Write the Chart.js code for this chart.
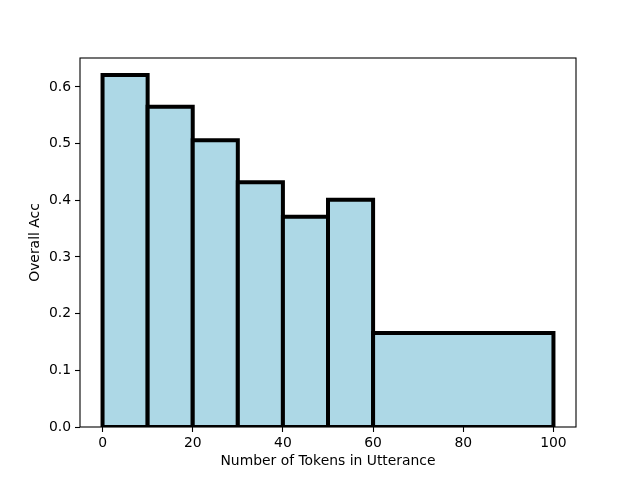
<!DOCTYPE html>
<html>
<head>
<meta charset="utf-8">
<script src="https://cdn.jsdelivr.net/npm/chart.js@4.4.0/dist/chart.umd.min.js"></script>
<style>
    html, body { margin: 0; padding: 0; background: #fff; }
    #wrap { width: 640px; height: 480px; }
</style>
</head>
<body>
<div id="wrap"><canvas id="accChart" width="640" height="480"></canvas></div>
<script>
// bin edges along x and the accuracy of each bin
const binEdges = [0, 10, 20, 30, 40, 50, 60, 100];
const overallAcc = [0.621, 0.565, 0.506, 0.432, 0.371, 0.401, 0.166];
const xTicks = [0, 20, 40, 60, 80, 100];
const yTicks = [0.0, 0.1, 0.2, 0.3, 0.4, 0.5, 0.6];

const fontSpec = { family: 'DejaVu Sans', size: 13.9 };

// each bar: left edge up, top, right edge down, filled to zero
const datasets = [];
for (let i = 0; i < overallAcc.length; i++) {
    const x0 = binEdges[i], x1 = binEdges[i + 1], h = overallAcc[i];
    datasets.push({
        data: [{x: x0, y: 0}, {x: x0, y: h}, {x: x1, y: h}, {x: x1, y: 0}],
        fill: 'origin',
        backgroundColor: '#add8e6',
        borderColor: '#000',
        borderWidth: 4,
        borderJoinStyle: 'miter',
        pointRadius: 0,
        tension: 0,
        order: overallAcc.length - i + 1
    });
}
// bottom edges of the bars (half hidden under the axis, as in the original)
datasets.push({
    data: [{x: binEdges[0], y: 0}, {x: binEdges[binEdges.length - 1], y: 0}],
    fill: false,
    borderColor: '#000',
    borderWidth: 4,
    pointRadius: 0,
    order: 0
});

const framePlugin = {
    id: 'frame',
    afterDatasetsDraw(chart) {
        const a = chart.chartArea;
        const ctx = chart.ctx;
        ctx.save();
        ctx.strokeStyle = '#000';
        ctx.lineWidth = 1.1;
        ctx.strokeRect(a.left, a.top, a.right - a.left, a.bottom - a.top);
        ctx.restore();
    }
};

const canv = document.getElementById('accChart').getContext('2d');
const chart = new Chart(canv, {
    type: 'line',
    data: { datasets: datasets },
    options: {
        responsive: false,
        animation: false,
        layout: { padding: { left: 0, top: 58, right: 64, bottom: 0 } },
        plugins: {
            legend: { display: false },
            tooltip: { enabled: false }
        },
        scales: {
            x: {
                type: 'linear',
                min: -5,
                max: 105,
                afterFit: (s) => { s.height = 53; },
                afterBuildTicks: (s) => { s.ticks = xTicks.map(v => ({value: v})); },
                border: { display: false },
                grid: { drawOnChartArea: false, drawTicks: true, tickLength: 5, color: '#000', tickWidth: 1.1 },
                ticks: { color: '#000', font: fontSpec, padding: 3, maxRotation: 0 },
                title: { display: true, text: 'Number of Tokens in Utterance', color: '#000', font: fontSpec, padding: { top: 0, bottom: 10 } }
            },
            y: {
                type: 'linear',
                min: 0,
                max: 0.651,
                afterFit: (s) => { s.width = 80; },
                afterBuildTicks: (s) => { s.ticks = yTicks.map(v => ({value: v})); },
                border: { display: false },
                grid: { drawOnChartArea: false, drawTicks: true, tickLength: 5, color: '#000', tickWidth: 1.1 },
                ticks: { color: '#000', font: fontSpec, padding: 4, callback: (v) => Number(v).toFixed(1) },
                title: { display: true, text: 'Overall Acc', color: '#000', font: fontSpec, padding: { top: 27, bottom: 0 } }
            }
        }
    },
    plugins: [framePlugin]
});
</script>
</body>
</html>
